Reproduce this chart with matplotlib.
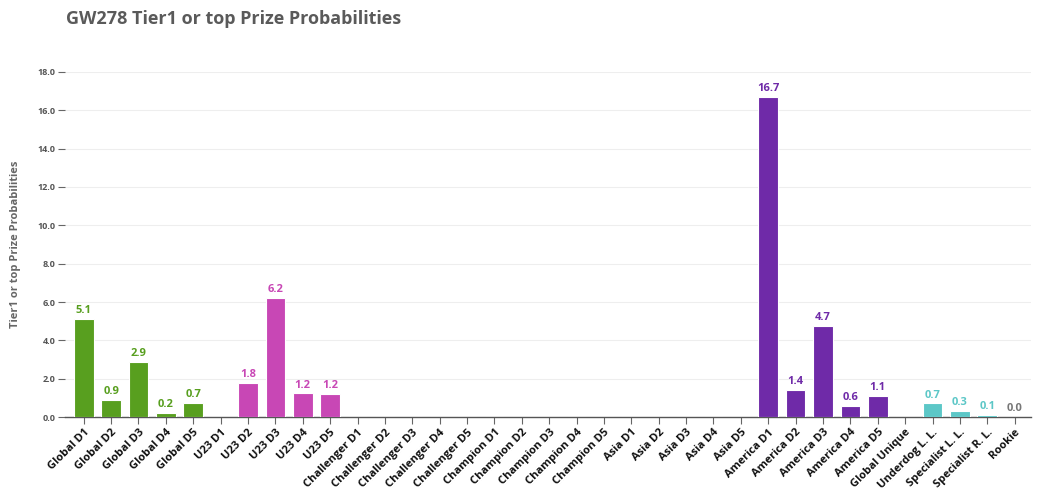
import numpy as np
import matplotlib.pyplot as plt

plt.rcParams['font.family'] = ['Open Sans', 'DejaVu Sans']

categories = ['Global D1', 'Global D2', 'Global D3', 'Global D4', 'Global D5',
              'U23 D1', 'U23 D2', 'U23 D3', 'U23 D4', 'U23 D5',
              'Challenger D1', 'Challenger D2', 'Challenger D3', 'Challenger D4', 'Challenger D5',
              'Champion D1', 'Champion D2', 'Champion D3', 'Champion D4', 'Champion D5',
              'Asia D1', 'Asia D2', 'Asia D3', 'Asia D4', 'Asia D5',
              'America D1', 'America D2', 'America D3', 'America D4', 'America D5',
              'Global Unique', 'Underdog L. L.', 'Specialist L. L.', 'Specialist R. L.', 'Rookie']

nan = np.nan
global_vals = [5.13, 0.92, 2.9, 0.24, 0.74]
u23_vals = [nan, 1.8, 6.2, 1.24, 1.22]
challenger_vals = [nan] * 5
champion_vals = [nan] * 5
asia_vals = [nan] * 5
america_vals = [16.7, 1.42, 4.74, 0.6, 1.12]
other_vals = [nan, 0.72, 0.32, 0.12, 0.0]

group_colors = ['#589f1f', '#c847b5', '#888888', '#888888', '#888888', '#6f2aa8']
other_colors = ['#777777', '#5cc7c7', '#5cc7c7', '#5cc7c7', '#777777']

values = global_vals + u23_vals + challenger_vals + champion_vals + asia_vals + america_vals + other_vals
colors = []
for c in group_colors:
    colors += [c] * 5
colors += other_colors

x = np.arange(len(categories))
fig = plt.figure(figsize=(10.5, 4.92), dpi=100)
ax = fig.add_axes([0.062, 0.152, 0.92, 0.702])

vals = np.array(values, dtype=float)
ax.bar(x, np.nan_to_num(vals), width=0.72, color=colors, edgecolor='white', linewidth=0.8, zorder=3)

for xi, v, c in zip(x, vals, colors):
    if np.isnan(v):
        continue
    ax.text(xi, v + 0.15, f'{v:.1f}', ha='center', va='bottom', color=c,
            fontsize=8, fontweight='bold', zorder=4)

ax.set_xlim(-0.68, len(categories) - 0.4)
ax.set_ylim(0, 18)
ax.set_yticks(np.arange(0, 18.1, 2))
ax.set_yticklabels([f'{t:.1f}' for t in np.arange(0, 18.1, 2)])
ax.set_xticks(x)
ax.set_xticklabels(categories, rotation=45, ha='right', rotation_mode='anchor',
                   fontsize=8, fontweight='bold', color='#111111')

ax.grid(axis='y', color='#eeeeee', linewidth=0.8, zorder=0)
for s in ['top', 'right', 'left']:
    ax.spines[s].set_visible(False)
ax.spines['bottom'].set_color('#555555')
ax.spines['bottom'].set_linewidth(1.0)
ax.tick_params(axis='y', length=5, color='#666666', labelsize=6.5, labelcolor='#555555', pad=2)
ax.tick_params(axis='x', length=5, color='#666666', pad=2)
for lbl in ax.get_yticklabels():
    lbl.set_fontweight('bold')

ax.set_ylabel('Tier1 or top Prize Probabilities', fontsize=8, fontweight='bold',
              color='#666666', labelpad=12)

fig.text(0.063, 0.962, 'GW278 Tier1 or top Prize Probabilities', fontsize=13,
         fontweight='bold', color='#5a5a5a', ha='left', va='center')

fig.savefig('out.png', dpi=100)
